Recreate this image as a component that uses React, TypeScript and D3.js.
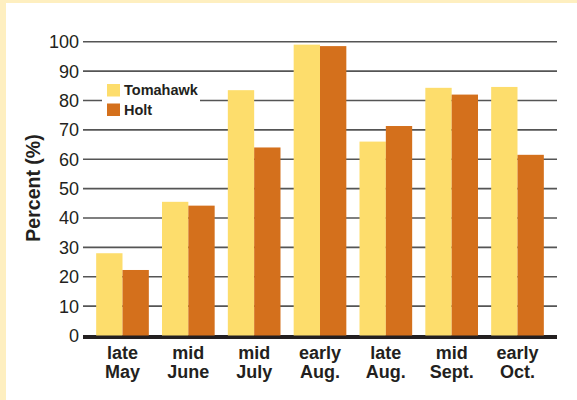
import React from "react";
import * as d3 from "d3";

const categories = [["late", "May"], ["mid", "June"], ["mid", "July"], ["early", "Aug."], ["late", "Aug."], ["mid", "Sept."], ["early", "Oct."]];
const tomahawk = [28, 45.5, 83.5, 99, 66, 84.3, 84.6];
const holt = [22.3, 44.2, 64, 98.5, 71.3, 82, 61.5];
const yTicks = [0, 10, 20, 30, 40, 50, 60, 70, 80, 90, 100];
const seriesNames = ["Tomahawk", "Holt"];
const colors = ["#FDDD6C", "#D4701C"];

const W = 577, H = 400;

export default function App() {
  const x = d3.scaleBand<number>().domain(d3.range(categories.length)).range([83, 557]).paddingInner(0.2).paddingOuter(0.2);
  const x1 = d3.scaleBand<number>().domain([0, 1]).range([0, x.bandwidth()]);
  const y = d3.scaleLinear().domain([0, 100]).range([335.5, 41.7]);
  const font = "'Liberation Sans', Arial, Helvetica, sans-serif";
  const series = [tomahawk, holt];
  return (
    <svg width={W} height={H} style={{ position: "absolute", left: 0, top: 0 }} fontFamily={font}>
      <rect x={0} y={0} width={W} height={H} fill="#FEEFC0" />
      <rect x={6} y={3} width={W - 6} height={H - 3} fill="#ffffff" />
      {yTicks.filter(t => t > 0).map(t => (
        <line key={t} x1={83} x2={557} y1={y(t)} y2={y(t)} stroke="#555" strokeWidth={1.6} />
      ))}
      {yTicks.map(t => (
        <text key={t} x={79} y={y(t)} dy="0.36em" textAnchor="end" fontSize={18} fill="#231f20">{t}</text>
      ))}
      <line x1={83} x2={557} y1={y(0) + 1.5} y2={y(0) + 1.5} stroke="#231f20" strokeWidth={4} />
      {categories.map((c, i) => (
        <g key={i} transform={`translate(${x(i)},0)`}>
          {series.map((s, j) => (
            <rect key={j} x={x1(j)} width={x1.bandwidth()} y={y(s[i])} height={y(0) - y(s[i])} fill={colors[j]} />
          ))}
          <text x={x.bandwidth() / 2} y={359} textAnchor="middle" fontSize={18} fontWeight="bold" fill="#231f20">{c[0]}</text>
          <text x={x.bandwidth() / 2} y={378} textAnchor="middle" fontSize={18} fontWeight="bold" fill="#231f20">{c[1]}</text>
        </g>
      ))}
      <text transform={`translate(40,188) rotate(-90)`} textAnchor="middle" fontSize={19.5} fontWeight="bold" fill="#231f20">Percent (%)</text>
      <rect x={102} y={80} width={98} height={40} fill="#ffffff" />
      {seriesNames.map((n, j) => (
        <g key={n} transform={`translate(107,${84 + j * 19.5})`}>
          <rect x={0} y={0} width={13} height={12.5} fill={colors[j]} />
          <text x={17} y={11} fontSize={14.5} fontWeight="bold" fill="#231f20">{n}</text>
        </g>
      ))}
    </svg>
  );
}
